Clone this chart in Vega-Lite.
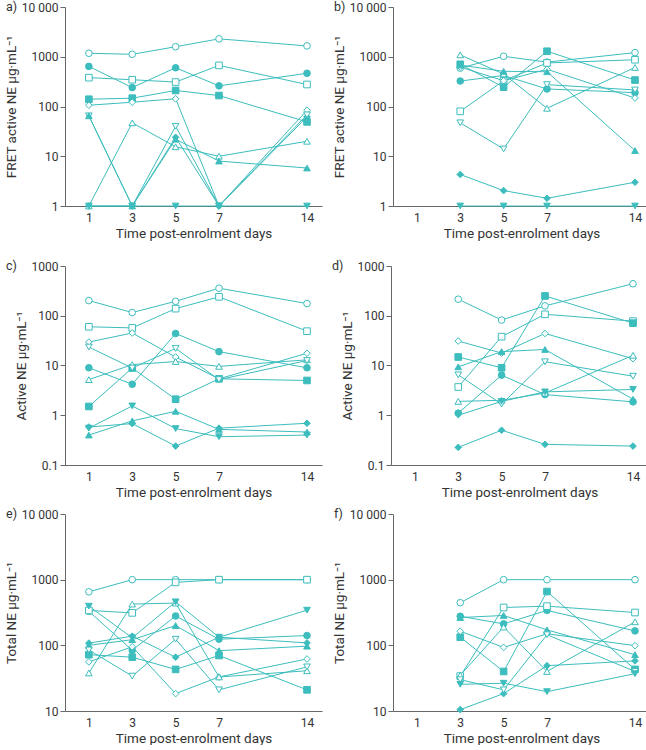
{
"$schema":"https://vega.github.io/schema/vega-lite/v6.json",
"padding":{"left":4,"top":0,"right":0,"bottom":0},
"config":{"view":{"stroke":null},"font":"Roboto",
"axis":{"domainColor":"#666","tickColor":"#666","labelColor":"#333","titleColor":"#333","labelFontSize":12,"titleFontSize":13.5,"titleFontWeight":"normal","grid":false,"tickSize":5,"labelPadding":2,"titlePadding":3},
"title":{"fontSize":12.5,"fontWeight":"normal","color":"#333"},
"concat":{"spacing":10}},
"datasets":{"d":[
{"p":"a","m":"circle","f":"open","d":1,"v":1175},{"p":"a","m":"circle","f":"open","d":3,"v":1120},{"p":"a","m":"circle","f":"open","d":5,"v":1590},{"p":"a","m":"circle","f":"open","d":7,"v":2290},{"p":"a","m":"circle","f":"open","d":14,"v":1650},
{"p":"a","m":"circle","f":"filled","d":1,"v":640},{"p":"a","m":"circle","f":"filled","d":3,"v":240},{"p":"a","m":"circle","f":"filled","d":5,"v":600},{"p":"a","m":"circle","f":"filled","d":7,"v":260},{"p":"a","m":"circle","f":"filled","d":14,"v":465},
{"p":"a","m":"square","f":"open","d":1,"v":380},{"p":"a","m":"square","f":"open","d":3,"v":345},{"p":"a","m":"square","f":"open","d":5,"v":310},{"p":"a","m":"square","f":"open","d":7,"v":670},{"p":"a","m":"square","f":"open","d":14,"v":277},
{"p":"a","m":"square","f":"filled","d":1,"v":140},{"p":"a","m":"square","f":"filled","d":3,"v":147},{"p":"a","m":"square","f":"filled","d":5,"v":210},{"p":"a","m":"square","f":"filled","d":7,"v":166},{"p":"a","m":"square","f":"filled","d":14,"v":49},
{"p":"a","m":"diamond","f":"open","d":1,"v":106},{"p":"a","m":"diamond","f":"open","d":3,"v":122},{"p":"a","m":"diamond","f":"open","d":5,"v":143},{"p":"a","m":"diamond","f":"open","d":7,"v":1},{"p":"a","m":"diamond","f":"open","d":14,"v":84},
{"p":"a","m":"diamond","f":"filled","d":1,"v":1},{"p":"a","m":"diamond","f":"filled","d":3,"v":1},{"p":"a","m":"diamond","f":"filled","d":5,"v":24},{"p":"a","m":"diamond","f":"filled","d":7,"v":1},{"p":"a","m":"diamond","f":"filled","d":14,"v":62},
{"p":"a","m":"triangle-up","f":"open","d":1,"v":1},{"p":"a","m":"triangle-up","f":"open","d":3,"v":47},{"p":"a","m":"triangle-up","f":"open","d":5,"v":15.5},{"p":"a","m":"triangle-up","f":"open","d":7,"v":10},{"p":"a","m":"triangle-up","f":"open","d":14,"v":20},
{"p":"a","m":"triangle-down","f":"open","d":1,"v":65},{"p":"a","m":"triangle-down","f":"open","d":3,"v":1},{"p":"a","m":"triangle-down","f":"open","d":5,"v":40},{"p":"a","m":"triangle-down","f":"open","d":7,"v":1},{"p":"a","m":"triangle-down","f":"open","d":14,"v":68},
{"p":"a","m":"triangle-up","f":"filled","d":1,"v":65},{"p":"a","m":"triangle-up","f":"filled","d":3,"v":1},{"p":"a","m":"triangle-up","f":"filled","d":5,"v":22},{"p":"a","m":"triangle-up","f":"filled","d":7,"v":8},{"p":"a","m":"triangle-up","f":"filled","d":14,"v":5.8},
{"p":"a","m":"triangle-down","f":"filled","d":1,"v":1},{"p":"a","m":"triangle-down","f":"filled","d":3,"v":1},{"p":"a","m":"triangle-down","f":"filled","d":5,"v":1},{"p":"a","m":"triangle-down","f":"filled","d":7,"v":1},{"p":"a","m":"triangle-down","f":"filled","d":14,"v":1},

{"p":"b","m":"circle","f":"open","d":3,"v":590},{"p":"b","m":"circle","f":"open","d":5,"v":1020},{"p":"b","m":"circle","f":"open","d":7,"v":780},{"p":"b","m":"circle","f":"open","d":14,"v":1210},
{"p":"b","m":"circle","f":"filled","d":3,"v":325},{"p":"b","m":"circle","f":"filled","d":5,"v":420},{"p":"b","m":"circle","f":"filled","d":7,"v":225},{"p":"b","m":"circle","f":"filled","d":14,"v":190},
{"p":"b","m":"square","f":"open","d":3,"v":80},{"p":"b","m":"square","f":"open","d":5,"v":330},{"p":"b","m":"square","f":"open","d":7,"v":750},{"p":"b","m":"square","f":"open","d":14,"v":870},
{"p":"b","m":"square","f":"filled","d":3,"v":705},{"p":"b","m":"square","f":"filled","d":5,"v":245},{"p":"b","m":"square","f":"filled","d":7,"v":1290},{"p":"b","m":"square","f":"filled","d":14,"v":340},
{"p":"b","m":"diamond","f":"open","d":3,"v":620},{"p":"b","m":"diamond","f":"open","d":5,"v":330},{"p":"b","m":"diamond","f":"open","d":7,"v":560},{"p":"b","m":"diamond","f":"open","d":14,"v":148},
{"p":"b","m":"diamond","f":"filled","d":3,"v":4.3},{"p":"b","m":"diamond","f":"filled","d":5,"v":2.04},{"p":"b","m":"diamond","f":"filled","d":7,"v":1.43},{"p":"b","m":"diamond","f":"filled","d":14,"v":3.0},
{"p":"b","m":"triangle-up","f":"open","d":3,"v":1090},{"p":"b","m":"triangle-up","f":"open","d":5,"v":450},{"p":"b","m":"triangle-up","f":"open","d":7,"v":92},{"p":"b","m":"triangle-up","f":"open","d":14,"v":610},
{"p":"b","m":"triangle-up","f":"filled","d":3,"v":680},{"p":"b","m":"triangle-up","f":"filled","d":5,"v":510},{"p":"b","m":"triangle-up","f":"filled","d":7,"v":500},{"p":"b","m":"triangle-up","f":"filled","d":14,"v":13},
{"p":"b","m":"triangle-down","f":"open","d":3,"v":47},{"p":"b","m":"triangle-down","f":"open","d":5,"v":14},{"p":"b","m":"triangle-down","f":"open","d":7,"v":275},{"p":"b","m":"triangle-down","f":"open","d":14,"v":215},
{"p":"b","m":"triangle-down","f":"filled","d":3,"v":1},{"p":"b","m":"triangle-down","f":"filled","d":5,"v":1},{"p":"b","m":"triangle-down","f":"filled","d":7,"v":1},{"p":"b","m":"triangle-down","f":"filled","d":14,"v":1},

{"p":"c","m":"circle","f":"open","d":1,"v":202},{"p":"c","m":"circle","f":"open","d":3,"v":116},{"p":"c","m":"circle","f":"open","d":5,"v":195},{"p":"c","m":"circle","f":"open","d":7,"v":358},{"p":"c","m":"circle","f":"open","d":14,"v":176},
{"p":"c","m":"circle","f":"filled","d":1,"v":9},{"p":"c","m":"circle","f":"filled","d":3,"v":4.2},{"p":"c","m":"circle","f":"filled","d":5,"v":44},{"p":"c","m":"circle","f":"filled","d":7,"v":19},{"p":"c","m":"circle","f":"filled","d":14,"v":9},
{"p":"c","m":"square","f":"open","d":1,"v":60},{"p":"c","m":"square","f":"open","d":3,"v":57},{"p":"c","m":"square","f":"open","d":5,"v":139},{"p":"c","m":"square","f":"open","d":7,"v":240},{"p":"c","m":"square","f":"open","d":14,"v":49},
{"p":"c","m":"square","f":"filled","d":1,"v":1.5},{"p":"c","m":"square","f":"filled","d":3,"v":8.9},{"p":"c","m":"square","f":"filled","d":5,"v":2.1},{"p":"c","m":"square","f":"filled","d":7,"v":5.4},{"p":"c","m":"square","f":"filled","d":14,"v":5.0},
{"p":"c","m":"diamond","f":"open","d":1,"v":29.6},{"p":"c","m":"diamond","f":"open","d":3,"v":45},{"p":"c","m":"diamond","f":"open","d":5,"v":14.8},{"p":"c","m":"diamond","f":"open","d":7,"v":5.4},{"p":"c","m":"diamond","f":"open","d":14,"v":17.6},
{"p":"c","m":"diamond","f":"filled","d":1,"v":0.58},{"p":"c","m":"diamond","f":"filled","d":3,"v":0.68},{"p":"c","m":"diamond","f":"filled","d":5,"v":0.24},{"p":"c","m":"diamond","f":"filled","d":7,"v":0.55},{"p":"c","m":"diamond","f":"filled","d":14,"v":0.69},
{"p":"c","m":"triangle-up","f":"open","d":1,"v":5.2},{"p":"c","m":"triangle-up","f":"open","d":3,"v":10.4},{"p":"c","m":"triangle-up","f":"open","d":5,"v":12},{"p":"c","m":"triangle-up","f":"open","d":7,"v":9.6},{"p":"c","m":"triangle-up","f":"open","d":14,"v":13},
{"p":"c","m":"triangle-up","f":"filled","d":1,"v":0.40},{"p":"c","m":"triangle-up","f":"filled","d":3,"v":0.77},{"p":"c","m":"triangle-up","f":"filled","d":5,"v":1.2},{"p":"c","m":"triangle-up","f":"filled","d":7,"v":0.52},{"p":"c","m":"triangle-up","f":"filled","d":14,"v":0.46},
{"p":"c","m":"triangle-down","f":"open","d":1,"v":23.5},{"p":"c","m":"triangle-down","f":"open","d":3,"v":8.9},{"p":"c","m":"triangle-down","f":"open","d":5,"v":22},{"p":"c","m":"triangle-down","f":"open","d":7,"v":5.2},{"p":"c","m":"triangle-down","f":"open","d":14,"v":12.6},
{"p":"c","m":"triangle-down","f":"filled","d":1,"v":0.55},{"p":"c","m":"triangle-down","f":"filled","d":3,"v":1.54},{"p":"c","m":"triangle-down","f":"filled","d":5,"v":0.54},{"p":"c","m":"triangle-down","f":"filled","d":7,"v":0.37},{"p":"c","m":"triangle-down","f":"filled","d":14,"v":0.40},

{"p":"d","m":"circle","f":"open","d":3,"v":215},{"p":"d","m":"circle","f":"open","d":5,"v":82},{"p":"d","m":"circle","f":"open","d":7,"v":158},{"p":"d","m":"circle","f":"open","d":14,"v":440},
{"p":"d","m":"circle","f":"filled","d":3,"v":1.1},{"p":"d","m":"circle","f":"filled","d":5,"v":6.4},{"p":"d","m":"circle","f":"filled","d":7,"v":2.6},{"p":"d","m":"circle","f":"filled","d":14,"v":1.86},
{"p":"d","m":"square","f":"open","d":3,"v":3.7},{"p":"d","m":"square","f":"open","d":5,"v":38},{"p":"d","m":"square","f":"open","d":7,"v":107},{"p":"d","m":"square","f":"open","d":14,"v":78},
{"p":"d","m":"square","f":"filled","d":3,"v":14.8},{"p":"d","m":"square","f":"filled","d":5,"v":9},{"p":"d","m":"square","f":"filled","d":7,"v":250},{"p":"d","m":"square","f":"filled","d":14,"v":71},
{"p":"d","m":"diamond","f":"open","d":3,"v":31},{"p":"d","m":"diamond","f":"open","d":5,"v":17.8},{"p":"d","m":"diamond","f":"open","d":7,"v":44},{"p":"d","m":"diamond","f":"open","d":14,"v":13.7},
{"p":"d","m":"diamond","f":"filled","d":3,"v":0.226},{"p":"d","m":"diamond","f":"filled","d":5,"v":0.5},{"p":"d","m":"diamond","f":"filled","d":7,"v":0.26},{"p":"d","m":"diamond","f":"filled","d":14,"v":0.24},
{"p":"d","m":"triangle-up","f":"open","d":3,"v":1.9},{"p":"d","m":"triangle-up","f":"open","d":5,"v":2.0},{"p":"d","m":"triangle-up","f":"open","d":7,"v":2.8},{"p":"d","m":"triangle-up","f":"open","d":14,"v":16},
{"p":"d","m":"triangle-up","f":"filled","d":3,"v":9.4},{"p":"d","m":"triangle-up","f":"filled","d":5,"v":19},{"p":"d","m":"triangle-up","f":"filled","d":7,"v":21},{"p":"d","m":"triangle-up","f":"filled","d":14,"v":2.1},
{"p":"d","m":"triangle-down","f":"open","d":3,"v":6.5},{"p":"d","m":"triangle-down","f":"open","d":5,"v":1.67},{"p":"d","m":"triangle-down","f":"open","d":7,"v":11.9},{"p":"d","m":"triangle-down","f":"open","d":14,"v":6.1},
{"p":"d","m":"triangle-down","f":"filled","d":3,"v":1.0},{"p":"d","m":"triangle-down","f":"filled","d":5,"v":1.9},{"p":"d","m":"triangle-down","f":"filled","d":7,"v":2.95},{"p":"d","m":"triangle-down","f":"filled","d":14,"v":3.3},

{"p":"e","m":"circle","f":"open","d":1,"v":653},{"p":"e","m":"circle","f":"open","d":3,"v":1000},{"p":"e","m":"circle","f":"open","d":5,"v":1000},{"p":"e","m":"circle","f":"open","d":7,"v":1000},{"p":"e","m":"circle","f":"open","d":14,"v":1000},
{"p":"e","m":"circle","f":"filled","d":1,"v":330},{"p":"e","m":"circle","f":"filled","d":3,"v":84},{"p":"e","m":"circle","f":"filled","d":5,"v":280},{"p":"e","m":"circle","f":"filled","d":7,"v":124},{"p":"e","m":"circle","f":"filled","d":14,"v":141},
{"p":"e","m":"square","f":"open","d":1,"v":340},{"p":"e","m":"square","f":"open","d":3,"v":312},{"p":"e","m":"square","f":"open","d":5,"v":910},{"p":"e","m":"square","f":"open","d":7,"v":1000},{"p":"e","m":"square","f":"open","d":14,"v":1000},
{"p":"e","m":"square","f":"filled","d":1,"v":72},{"p":"e","m":"square","f":"filled","d":3,"v":66},{"p":"e","m":"square","f":"filled","d":5,"v":43},{"p":"e","m":"square","f":"filled","d":7,"v":70},{"p":"e","m":"square","f":"filled","d":14,"v":21},
{"p":"e","m":"diamond","f":"open","d":1,"v":56},{"p":"e","m":"diamond","f":"open","d":3,"v":95},{"p":"e","m":"diamond","f":"open","d":5,"v":18.4},{"p":"e","m":"diamond","f":"open","d":7,"v":33},{"p":"e","m":"diamond","f":"open","d":14,"v":62},
{"p":"e","m":"diamond","f":"filled","d":1,"v":108},{"p":"e","m":"diamond","f":"filled","d":3,"v":138},{"p":"e","m":"diamond","f":"filled","d":5,"v":66},{"p":"e","m":"diamond","f":"filled","d":7,"v":133},{"p":"e","m":"diamond","f":"filled","d":14,"v":109},
{"p":"e","m":"triangle-up","f":"open","d":1,"v":38},{"p":"e","m":"triangle-up","f":"open","d":3,"v":425},{"p":"e","m":"triangle-up","f":"open","d":5,"v":440},{"p":"e","m":"triangle-up","f":"open","d":7,"v":33},{"p":"e","m":"triangle-up","f":"open","d":14,"v":41},
{"p":"e","m":"triangle-up","f":"filled","d":1,"v":100},{"p":"e","m":"triangle-up","f":"filled","d":3,"v":122},{"p":"e","m":"triangle-up","f":"filled","d":5,"v":200},{"p":"e","m":"triangle-up","f":"filled","d":7,"v":83},{"p":"e","m":"triangle-up","f":"filled","d":14,"v":97},
{"p":"e","m":"triangle-down","f":"open","d":1,"v":85},{"p":"e","m":"triangle-down","f":"open","d":3,"v":34},{"p":"e","m":"triangle-down","f":"open","d":5,"v":124},{"p":"e","m":"triangle-down","f":"open","d":7,"v":21},{"p":"e","m":"triangle-down","f":"open","d":14,"v":47},
{"p":"e","m":"triangle-down","f":"filled","d":1,"v":395},{"p":"e","m":"triangle-down","f":"filled","d":3,"v":130},{"p":"e","m":"triangle-down","f":"filled","d":5,"v":460},{"p":"e","m":"triangle-down","f":"filled","d":7,"v":133},{"p":"e","m":"triangle-down","f":"filled","d":14,"v":343},

{"p":"f","m":"circle","f":"open","d":3,"v":446},{"p":"f","m":"circle","f":"open","d":5,"v":1000},{"p":"f","m":"circle","f":"open","d":7,"v":1000},{"p":"f","m":"circle","f":"open","d":14,"v":1000},
{"p":"f","m":"circle","f":"filled","d":3,"v":277},{"p":"f","m":"circle","f":"filled","d":5,"v":212},{"p":"f","m":"circle","f":"filled","d":7,"v":340},{"p":"f","m":"circle","f":"filled","d":14,"v":166},
{"p":"f","m":"square","f":"open","d":3,"v":34},{"p":"f","m":"square","f":"open","d":5,"v":377},{"p":"f","m":"square","f":"open","d":7,"v":395},{"p":"f","m":"square","f":"open","d":14,"v":316},
{"p":"f","m":"square","f":"filled","d":3,"v":133},{"p":"f","m":"square","f":"filled","d":5,"v":40},{"p":"f","m":"square","f":"filled","d":7,"v":660},{"p":"f","m":"square","f":"filled","d":14,"v":43},
{"p":"f","m":"diamond","f":"open","d":3,"v":164},{"p":"f","m":"diamond","f":"open","d":5,"v":93},{"p":"f","m":"diamond","f":"open","d":7,"v":150},{"p":"f","m":"diamond","f":"open","d":14,"v":99},
{"p":"f","m":"diamond","f":"filled","d":3,"v":10.5},{"p":"f","m":"diamond","f":"filled","d":5,"v":18.4},{"p":"f","m":"diamond","f":"filled","d":7,"v":49},{"p":"f","m":"diamond","f":"filled","d":14,"v":58},
{"p":"f","m":"triangle-up","f":"open","d":3,"v":35},{"p":"f","m":"triangle-up","f":"open","d":5,"v":190},{"p":"f","m":"triangle-up","f":"open","d":7,"v":40},{"p":"f","m":"triangle-up","f":"open","d":14,"v":228},
{"p":"f","m":"triangle-up","f":"filled","d":3,"v":265},{"p":"f","m":"triangle-up","f":"filled","d":5,"v":285},{"p":"f","m":"triangle-up","f":"filled","d":7,"v":172},{"p":"f","m":"triangle-up","f":"filled","d":14,"v":72},
{"p":"f","m":"triangle-down","f":"open","d":3,"v":30},{"p":"f","m":"triangle-down","f":"open","d":5,"v":21},{"p":"f","m":"triangle-down","f":"open","d":7,"v":145},{"p":"f","m":"triangle-down","f":"open","d":14,"v":40},
{"p":"f","m":"triangle-down","f":"filled","d":3,"v":25.5},{"p":"f","m":"triangle-down","f":"filled","d":5,"v":26.5},{"p":"f","m":"triangle-down","f":"filled","d":7,"v":19.7},{"p":"f","m":"triangle-down","f":"filled","d":14,"v":37}
]},
"spacing":19,
"vconcat":[
{"hconcat":[
{"width":257,"height":199,"title":{"text":"a)","anchor":"start","frame":"group","dx":-59,"dy":18,"offset":0,"baseline":"middle"},
"data":{"name":"d"},"transform":[{"filter":"datum.p=='a'"}],
"encoding":{"x":{"field":"d","type":"quantitative","scale":{"domain":[-0.1,7,14,14.7],"range":[0,154,242,257],"nice":false,"zero":false},"axis":{"values":[1,3,5,7,14],"title":"Time post-enrolment days","ticks":false,"labelPadding":6,"labelFlush":false}},
"y":{"field":"v","type":"quantitative","scale":{"type":"log","domain":[1,10000],"nice":false},"axis":{"values":[1,10,100,1000,10000],"title":"FRET active NE μg·mL⁻¹","labelExpr":"datum.value >= 10000 ? '10 000' : format(datum.value, '~g')"}}},
"layer":[
{"mark":{"type":"line","color":"#3dbdbd","strokeWidth":1},"encoding":{"detail":[{"field":"m"},{"field":"f"}]}},
{"mark":{"type":"point","filled":true,"stroke":"#3dbdbd","strokeWidth":1,"size":44,"opacity":1},"encoding":{"shape":{"field":"m","type":"nominal","scale":{"domain":["circle","square","diamond","triangle-up","triangle-down"],"range":["circle","square","diamond","triangle-up","triangle-down"]},"legend":null},"fill":{"field":"f","type":"nominal","scale":{"domain":["open","filled"],"range":["#ffffff","#3dbdbd"]},"legend":null}}}]},
{"width":257,"height":199,"title":{"text":"b)","anchor":"start","frame":"group","dx":-59,"dy":18,"offset":0,"baseline":"middle"},
"data":{"name":"d"},"transform":[{"filter":"datum.p=='b'"}],
"encoding":{"x":{"field":"d","type":"quantitative","scale":{"domain":[-0.1,7,14,14.7],"range":[0,154,242,257],"nice":false,"zero":false},"axis":{"values":[1,3,5,7,14],"title":"Time post-enrolment days","ticks":false,"labelPadding":6,"labelFlush":false}},
"y":{"field":"v","type":"quantitative","scale":{"type":"log","domain":[1,10000],"nice":false},"axis":{"values":[1,10,100,1000,10000],"title":"FRET active NE μg·mL⁻¹","labelExpr":"datum.value >= 10000 ? '10 000' : format(datum.value, '~g')"}}},
"layer":[
{"mark":{"type":"line","color":"#3dbdbd","strokeWidth":1},"encoding":{"detail":[{"field":"m"},{"field":"f"}]}},
{"mark":{"type":"point","filled":true,"stroke":"#3dbdbd","strokeWidth":1,"size":44,"opacity":1},"encoding":{"shape":{"field":"m","type":"nominal","scale":{"domain":["circle","square","diamond","triangle-up","triangle-down"],"range":["circle","square","diamond","triangle-up","triangle-down"]},"legend":null},"fill":{"field":"f","type":"nominal","scale":{"domain":["open","filled"],"range":["#ffffff","#3dbdbd"]},"legend":null}}}]}
]},
{"spacing":8,"vconcat":[
{"hconcat":[
{"width":257,"height":199,"title":{"text":"c)","anchor":"start","frame":"group","dx":-59,"dy":18,"offset":0,"baseline":"middle"},
"data":{"name":"d"},"transform":[{"filter":"datum.p=='c'"}],
"encoding":{"x":{"field":"d","type":"quantitative","scale":{"domain":[-0.1,7,14,14.7],"range":[0,154,242,257],"nice":false,"zero":false},"axis":{"values":[1,3,5,7,14],"title":"Time post-enrolment days","ticks":false,"labelPadding":6,"labelFlush":false}},
"y":{"field":"v","type":"quantitative","scale":{"type":"log","domain":[0.1,1000],"nice":false},"axis":{"values":[0.1,1,10,100,1000],"title":"Active NE μg·mL⁻¹","labelExpr":"datum.value >= 10000 ? '10 000' : format(datum.value, '~g')"}}},
"layer":[
{"mark":{"type":"line","color":"#3dbdbd","strokeWidth":1},"encoding":{"detail":[{"field":"m"},{"field":"f"}]}},
{"mark":{"type":"point","filled":true,"stroke":"#3dbdbd","strokeWidth":1,"size":44,"opacity":1},"encoding":{"shape":{"field":"m","type":"nominal","scale":{"domain":["circle","square","diamond","triangle-up","triangle-down"],"range":["circle","square","diamond","triangle-up","triangle-down"]},"legend":null},"fill":{"field":"f","type":"nominal","scale":{"domain":["open","filled"],"range":["#ffffff","#3dbdbd"]},"legend":null}}}]},
{"width":257,"height":199,"title":{"text":"d)","anchor":"start","frame":"group","dx":-59,"dy":18,"offset":0,"baseline":"middle"},
"data":{"name":"d"},"transform":[{"filter":"datum.p=='d'"}],
"encoding":{"x":{"field":"d","type":"quantitative","scale":{"domain":[-0.1,7,14,14.7],"range":[0,154,242,257],"nice":false,"zero":false},"axis":{"values":[1,3,5,7,14],"title":"Time post-enrolment days","ticks":false,"labelPadding":6,"labelFlush":false}},
"y":{"field":"v","type":"quantitative","scale":{"type":"log","domain":[0.1,1000],"nice":false},"axis":{"values":[0.1,1,10,100,1000],"title":"Active NE μg·mL⁻¹","labelExpr":"datum.value >= 10000 ? '10 000' : format(datum.value, '~g')"}}},
"layer":[
{"mark":{"type":"line","color":"#3dbdbd","strokeWidth":1},"encoding":{"detail":[{"field":"m"},{"field":"f"}]}},
{"mark":{"type":"point","filled":true,"stroke":"#3dbdbd","strokeWidth":1,"size":44,"opacity":1},"encoding":{"shape":{"field":"m","type":"nominal","scale":{"domain":["circle","square","diamond","triangle-up","triangle-down"],"range":["circle","square","diamond","triangle-up","triangle-down"]},"legend":null},"fill":{"field":"f","type":"nominal","scale":{"domain":["open","filled"],"range":["#ffffff","#3dbdbd"]},"legend":null}}}]}
]},
{"hconcat":[
{"width":257,"height":197,"title":{"text":"e)","anchor":"start","frame":"group","dx":-59,"dy":18,"offset":0,"baseline":"middle"},
"data":{"name":"d"},"transform":[{"filter":"datum.p=='e'"}],
"encoding":{"x":{"field":"d","type":"quantitative","scale":{"domain":[-0.1,7,14,14.7],"range":[0,154,242,257],"nice":false,"zero":false},"axis":{"values":[1,3,5,7,14],"title":"Time post-enrolment days","ticks":false,"labelPadding":6,"labelFlush":false}},
"y":{"field":"v","type":"quantitative","scale":{"type":"log","domain":[10,10000],"nice":false},"axis":{"values":[10,100,1000,10000],"title":"Total NE μg·mL⁻¹","labelExpr":"datum.value >= 10000 ? '10 000' : format(datum.value, '~g')"}}},
"layer":[
{"mark":{"type":"line","color":"#3dbdbd","strokeWidth":1},"encoding":{"detail":[{"field":"m"},{"field":"f"}]}},
{"mark":{"type":"point","filled":true,"stroke":"#3dbdbd","strokeWidth":1,"size":44,"opacity":1},"encoding":{"shape":{"field":"m","type":"nominal","scale":{"domain":["circle","square","diamond","triangle-up","triangle-down"],"range":["circle","square","diamond","triangle-up","triangle-down"]},"legend":null},"fill":{"field":"f","type":"nominal","scale":{"domain":["open","filled"],"range":["#ffffff","#3dbdbd"]},"legend":null}}}]},
{"width":257,"height":197,"title":{"text":"f)","anchor":"start","frame":"group","dx":-59,"dy":18,"offset":0,"baseline":"middle"},
"data":{"name":"d"},"transform":[{"filter":"datum.p=='f'"}],
"encoding":{"x":{"field":"d","type":"quantitative","scale":{"domain":[-0.1,7,14,14.7],"range":[0,154,242,257],"nice":false,"zero":false},"axis":{"values":[1,3,5,7,14],"title":"Time post-enrolment days","ticks":false,"labelPadding":6,"labelFlush":false}},
"y":{"field":"v","type":"quantitative","scale":{"type":"log","domain":[10,10000],"nice":false},"axis":{"values":[10,100,1000,10000],"title":"Total NE μg·mL⁻¹","labelExpr":"datum.value >= 10000 ? '10 000' : format(datum.value, '~g')"}}},
"layer":[
{"mark":{"type":"line","color":"#3dbdbd","strokeWidth":1},"encoding":{"detail":[{"field":"m"},{"field":"f"}]}},
{"mark":{"type":"point","filled":true,"stroke":"#3dbdbd","strokeWidth":1,"size":44,"opacity":1},"encoding":{"shape":{"field":"m","type":"nominal","scale":{"domain":["circle","square","diamond","triangle-up","triangle-down"],"range":["circle","square","diamond","triangle-up","triangle-down"]},"legend":null},"fill":{"field":"f","type":"nominal","scale":{"domain":["open","filled"],"range":["#ffffff","#3dbdbd"]},"legend":null}}}]}
]}
]}
]
}
